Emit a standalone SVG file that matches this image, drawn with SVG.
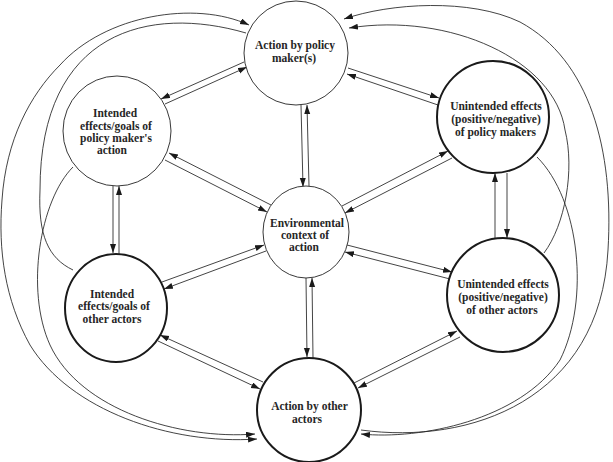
<svg xmlns="http://www.w3.org/2000/svg" width="613" height="462" viewBox="0 0 613 462">
<style>
.n{fill:#fff;stroke:#222;stroke-width:0.9}
.t{fill:#fff;stroke:#1a1a1a;stroke-width:2}
.l{fill:none;stroke:#222;stroke-width:0.85}
text{font-family:"Liberation Serif","Times New Roman",serif;font-weight:bold;font-size:11.5px;fill:#262626;text-anchor:middle}
</style>
<defs>
<marker id="a" markerUnits="userSpaceOnUse" markerWidth="10" markerHeight="7" refX="9" refY="3" orient="auto">
<path d="M0,0 L9,3 L0,6 z" fill="#1a1a1a"/>
</marker>
<marker id="s" markerUnits="userSpaceOnUse" markerWidth="10" markerHeight="7" refX="9" refY="3" orient="auto-start-reverse">
<path d="M0,0 L9,3 L0,6 z" fill="#1a1a1a"/>
</marker>
</defs>
<g id="connectors">
<g marker-end="url(#a)" class="l">
<path d="M244,62 L161,99"/>
<path d="M165,104 L247,67"/>
<path d="M348,68 L439,98"/>
<path d="M438,105 L347,74"/>
<path d="M301,105 L303,187"/>
<path d="M309,186 L307,105"/>
<path d="M271,205 L169,153"/>
<path d="M165,160 L267,212"/>
<path d="M342,206 L448,151"/>
<path d="M452,158 L345,213"/>
<path d="M113,186 L113,253"/>
<path d="M119,254 L119,186"/>
<path d="M495,238 L495,173"/>
<path d="M507,173 L507,238"/>
<path d="M162,282 L264,245"/>
<path d="M266,251 L164,289"/>
<path d="M347,245 L452,272"/>
<path d="M450,279 L345,252"/>
<path d="M306,278 L307,357"/>
<path d="M313,358 L312,278"/>
<path d="M263,382 L160,335"/>
<path d="M158,341 L260,389"/>
<path d="M354,383 L457,331"/>
<path d="M460,337 L358,388"/>
<path marker-start="url(#s)" d="M257,439 C170,445 70,410 30,345 C5,300 -2,250 2,200 C6,140 30,95 60,65 C105,15 195,0 249,25"/>
<path d="M73,167 C40,200 25,290 50,345 C80,410 180,440 255,434"/>
<path d="M361,430 C470,445 600,400 608,250 C614,150 590,60 520,22 C470,-2 390,3 344,19"/>
<path d="M544,253 C565,225 575,170 565,130 C555,60 450,12 349,28"/>
<path d="M537,157 C580,200 590,300 560,360 C520,420 420,440 361,434"/>
</g>
<path class="l" d="M246,33 C150,5 40,30 40,190 C38,235 48,258 73,270"/>
</g>
<g id="n-top"><ellipse class="n" cx="296" cy="53" rx="52" ry="52"/><text x="295" y="49">Action by policy</text><text x="294" y="61.5">maker(s)</text></g>
<g id="n-ipm"><ellipse class="n" cx="117" cy="131" rx="54" ry="55"/><text x="115" y="117">Intended</text><text x="116" y="129.5">effects/goals of</text><text x="116" y="142">policy maker's</text><text x="112" y="154">action</text></g>
<g id="n-upm"><ellipse class="t" cx="493" cy="117" rx="56" ry="56"/><text x="496" y="110">Unintended effects</text><text x="496" y="123">(positive/negative)</text><text x="495.5" y="136">of policy makers</text></g>
<g id="n-env"><ellipse class="n" cx="306" cy="232" rx="43" ry="46"/><text x="307" y="227">Environmental</text><text x="305" y="239">context of</text><text x="304" y="251">action</text></g>
<g id="n-ioa"><ellipse class="t" cx="116" cy="308" rx="51" ry="54"/><text x="112" y="297.5">Intended</text><text x="114" y="310">effects/goals of</text><text x="112" y="322.5">other actors</text></g>
<g id="n-uoa"><ellipse class="t" cx="503" cy="295" rx="56" ry="57"/><text x="503" y="288">Unintended effects</text><text x="503" y="301">(positive/negative)</text><text x="502" y="313.5">of other actors</text></g>
<g id="n-aoa"><ellipse class="t" cx="309" cy="410" rx="52" ry="52"/><text x="309.5" y="410">Action by other</text><text x="307" y="422.5">actors</text></g>
</svg>
